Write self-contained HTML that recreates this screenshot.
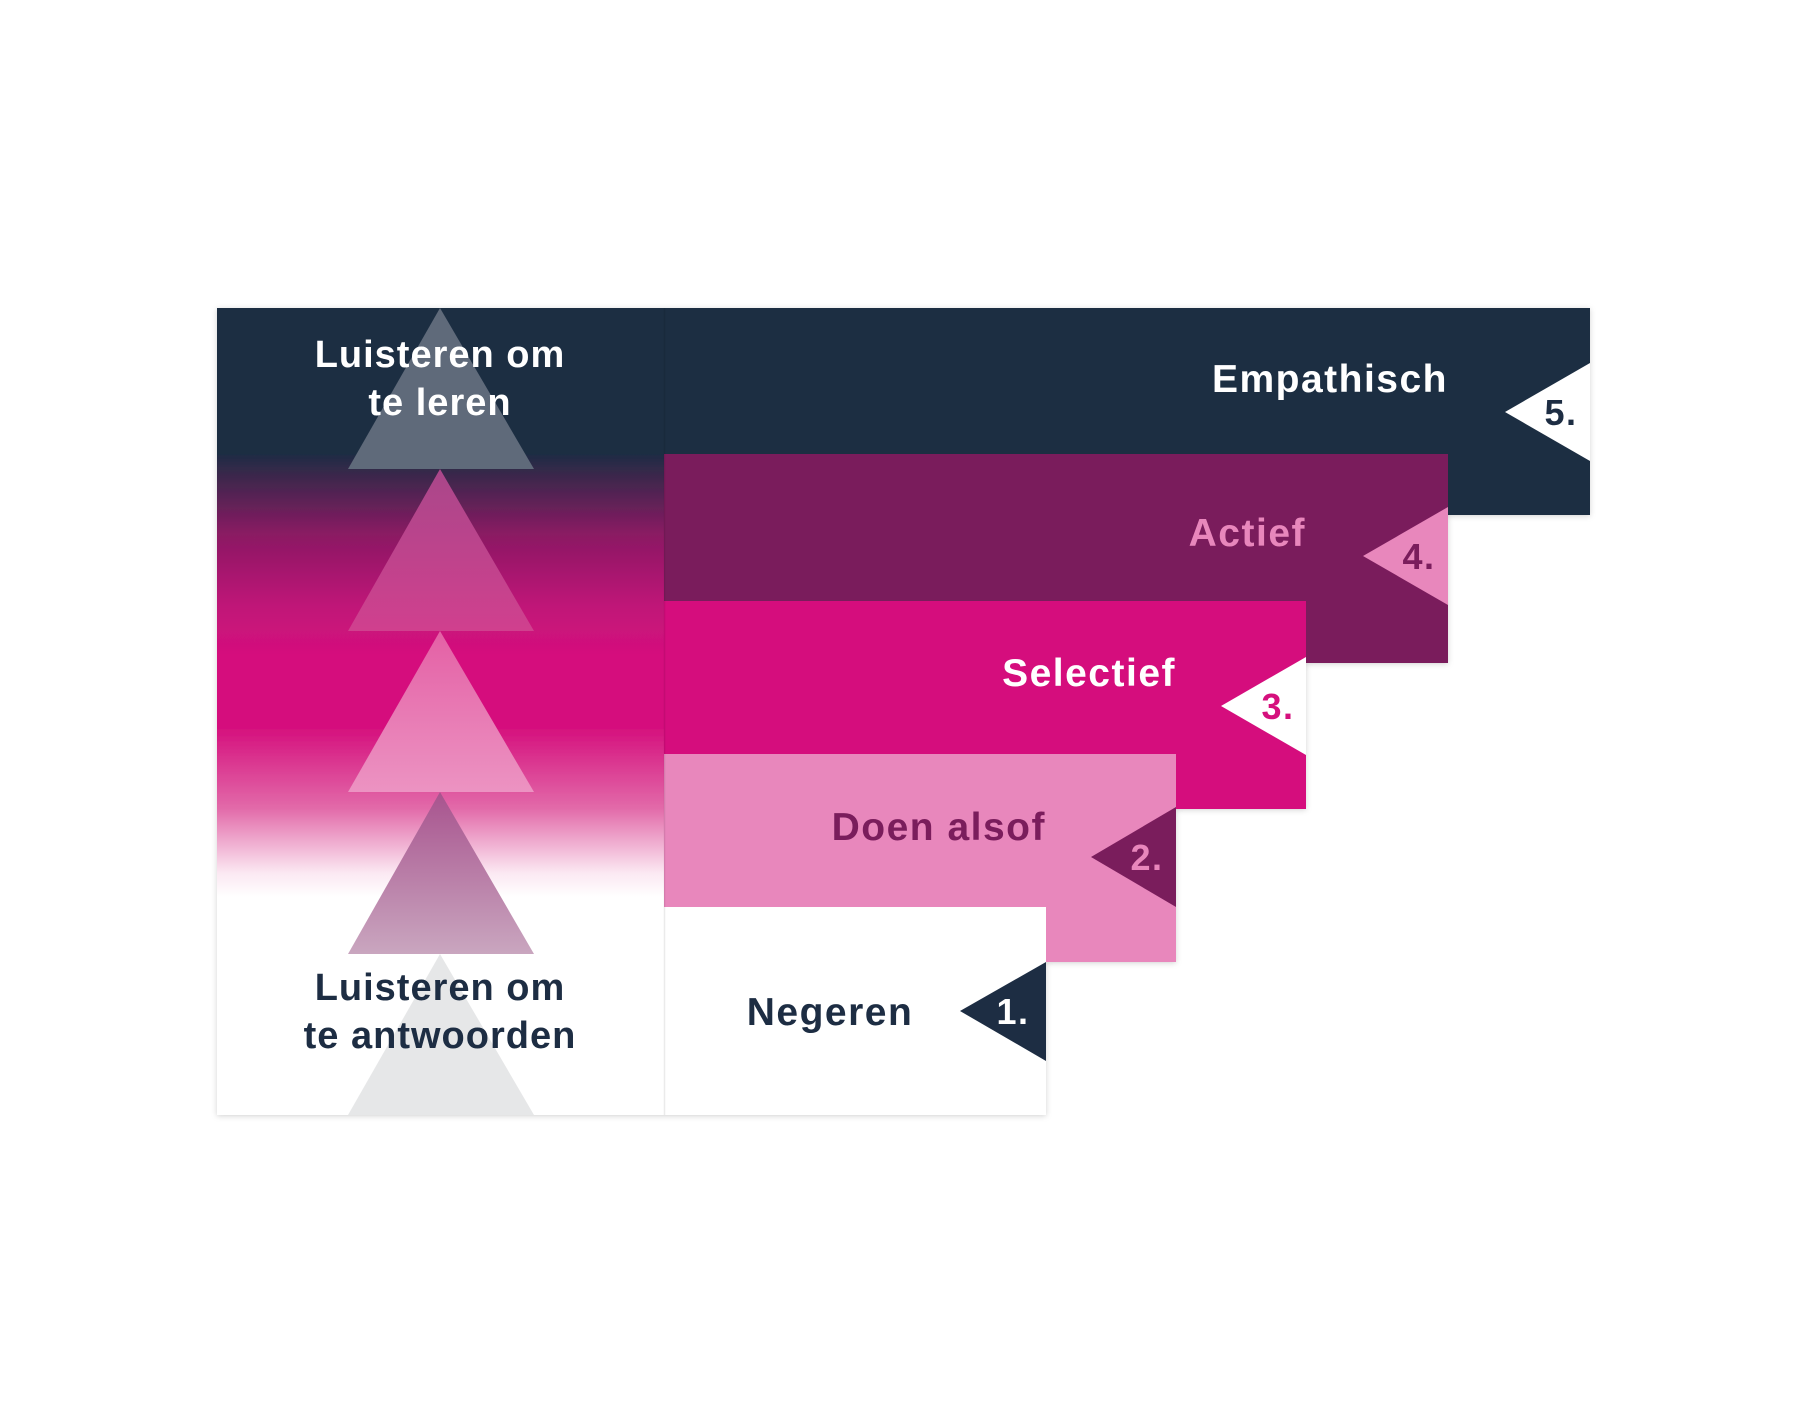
<!DOCTYPE html>
<html><head><meta charset="utf-8"><style>html,body{margin:0;padding:0;background:#fff}svg{display:block}text{font-family:"Liberation Sans",sans-serif;font-weight:bold;letter-spacing:1.5px}</style></head>
<body>
<svg width="1808" height="1424" viewBox="0 0 1808 1424" xmlns="http://www.w3.org/2000/svg">
<defs>
<linearGradient id="lg" x1="0" y1="308" x2="0" y2="1115" gradientUnits="userSpaceOnUse">
<stop offset="0" stop-color="#1d2d43"/>
<stop offset="0.18" stop-color="#1d2d43"/>
<stop offset="0.28" stop-color="#8a1a63"/>
<stop offset="0.37" stop-color="#c01478"/>
<stop offset="0.43" stop-color="#d5107d"/>
<stop offset="0.52" stop-color="#d5107d"/>
<stop offset="0.62" stop-color="#e26aa9"/>
<stop offset="0.7" stop-color="#fbe8f2"/>
<stop offset="0.73" stop-color="#ffffff"/>
<stop offset="1" stop-color="#ffffff"/>
</linearGradient>
<linearGradient id="t2" x1="0" y1="469" x2="0" y2="630" gradientUnits="userSpaceOnUse"><stop offset="0" stop-color="#a9478a"/><stop offset="1" stop-color="#d0408e"/></linearGradient>
<linearGradient id="t3" x1="0" y1="631" x2="0" y2="792" gradientUnits="userSpaceOnUse"><stop offset="0" stop-color="#e460a5"/><stop offset="1" stop-color="#ec93c2"/></linearGradient>
<linearGradient id="t4" x1="0" y1="792" x2="0" y2="954" gradientUnits="userSpaceOnUse"><stop offset="0" stop-color="#a8538e"/><stop offset="1" stop-color="#c9a6bf"/></linearGradient>
<filter id="sh" x="-5%" y="-5%" width="110%" height="110%"><feDropShadow dx="0" dy="1" stdDeviation="3" flood-color="#000" flood-opacity="0.18"/></filter>
</defs>
<g filter="url(#sh)">
<rect x="217" y="308" width="447" height="807" fill="url(#lg)"/>
<rect x="664" y="308" width="926" height="207" fill="#1d2d43"/>
<rect x="664" y="454" width="784" height="209" fill="#7a1d5c"/>
<rect x="664" y="601" width="642" height="208" fill="#d5107d"/>
<rect x="664" y="754" width="512" height="208" fill="#e887bc"/>
<rect x="664" y="907" width="382" height="208" fill="#ffffff"/>
</g>
<line x1="664.5" y1="308" x2="664.5" y2="1115" stroke="#000" stroke-opacity="0.08" stroke-width="1.5"/>
<polygon points="440,308 534,469 348,469" fill="#5f6a7a"/>
<polygon points="440,469 534,631 348,631" fill="url(#t2)"/>
<polygon points="440,631 534,792 348,792" fill="url(#t3)"/>
<polygon points="440,792 534,954 348,954" fill="url(#t4)"/>
<polygon points="440,954 534,1115 348,1115" fill="#e6e7e8"/>
<text x="440" y="367" font-size="38" fill="#fff" text-anchor="middle" style="letter-spacing:1px">Luisteren om</text>
<text x="440" y="415" font-size="38" fill="#fff" text-anchor="middle" style="letter-spacing:1px">te leren</text>
<text x="440" y="1000" font-size="38" fill="#1d2d43" text-anchor="middle" style="letter-spacing:1px">Luisteren om</text>
<text x="440" y="1048" font-size="38" fill="#1d2d43" text-anchor="middle" style="letter-spacing:1px">te antwoorden</text>
<polygon points="1505,412 1590,363 1590,461" fill="#fff"/>
<polygon points="1363,556 1448,507 1448,605" fill="#e887bc"/>
<polygon points="1221,706 1306,657 1306,755" fill="#fff"/>
<polygon points="1091,857 1176,807 1176,907" fill="#7a1d5c"/>
<polygon points="960,1011 1046,962 1046,1061" fill="#1d2d43"/>
<text x="1448" y="392" font-size="39" fill="#fff" text-anchor="end">Empathisch</text>
<text x="1306" y="546" font-size="39" fill="#e887bc" text-anchor="end">Actief</text>
<text x="1176" y="686" font-size="39" fill="#fff" text-anchor="end">Selectief</text>
<text x="1046" y="840" font-size="39" fill="#7a1d5c" text-anchor="end">Doen alsof</text>
<text x="830" y="1025" font-size="39" fill="#1d2d43" text-anchor="middle">Negeren</text>
<text x="1561" y="425" font-size="36" fill="#1d2d43" text-anchor="middle">5.</text>
<text x="1419" y="569" font-size="36" fill="#7a1d5c" text-anchor="middle">4.</text>
<text x="1278" y="719" font-size="36" fill="#d5107d" text-anchor="middle">3.</text>
<text x="1147" y="870" font-size="36" fill="#e887bc" text-anchor="middle">2.</text>
<text x="1013" y="1024" font-size="36" fill="#fff" text-anchor="middle">1.</text>
</svg>
</body></html>
